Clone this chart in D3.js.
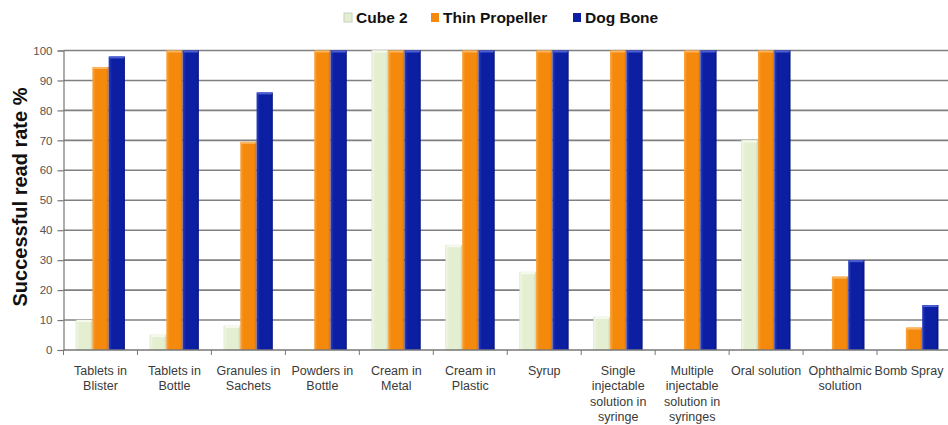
<!DOCTYPE html>
<html>
<head>
<meta charset="utf-8">
<script src="https://cdn.jsdelivr.net/npm/d3@7/dist/d3.min.js"></script>
<style>
  html, body { margin: 0; padding: 0; background: #fff; }
  svg { display: block; font-family: "Liberation Sans", Arial, sans-serif; }
</style>
</head>
<body>
<svg id="chart" width="948" height="425"></svg>
<script>
// Package types tested
const categories = [
  "Tablets in Blister", "Tablets in Bottle", "Granules in Sachets", "Powders in Bottle",
  "Cream in Metal", "Cream in Plastic", "Syrup", "Single injectable solution in syringe",
  "Multiple injectable solution in syringes", "Oral solution", "Ophthalmic solution", "Bomb Spray"
];
// Wrapped label lines for each category
const categoryLines = [
  ["Tablets in", "Blister"], ["Tablets in", "Bottle"], ["Granules in", "Sachets"], ["Powders in", "Bottle"],
  ["Cream in", "Metal"], ["Cream in", "Plastic"], ["Syrup"], ["Single", "injectable", "solution in", "syringe"],
  ["Multiple", "injectable", "solution in", "syringes"], ["Oral solution"], ["Ophthalmic", "solution"], ["Bomb Spray"]
];
const seriesNames = ["Cube 2", "Thin Propeller", "Dog Bone"];
// Successful read rate (%) per antenna
const cube2 = [10, 5, 8, 0, 100, 35, 26, 11, 0, 70, 0, 0];
const thinPropeller = [94.5, 100, 69.5, 100, 100, 100, 100, 100, 100, 100, 24.5, 7.5];
const dogBone = [98, 100, 86, 100, 100, 100, 100, 100, 100, 100, 30, 15];
const yTicks = [0, 10, 20, 30, 40, 50, 60, 70, 80, 90, 100];

const seriesValues = [cube2, thinPropeller, dogBone];
const fills = [
  { main: "#e4efd2", light: "#f2f8e6", dark: "#c9d6b4", cap: "#f6faee" },
  { main: "#f5890c", light: "#f9a640", dark: "#d87200", cap: "#fbb560" },
  { main: "#0c1fa3", light: "#2a3fc0", dark: "#07137a", cap: "#4a5ed6" }
];

const svg = d3.select("#chart");
const plotLeft = 63.5, plotRight = 951, plotTop = 50.5, plotBottom = 350;

const x = d3.scaleBand().domain(categories).range([plotLeft, plotRight]).paddingInner(0).paddingOuter(0);
const inner = d3.scaleBand().domain(seriesNames).range([0, x.bandwidth()]).paddingInner(0).paddingOuter(0.77);
const y = d3.scaleLinear().domain([0, 100]).range([plotBottom, plotTop]);

// Gradients give the bars a slightly rounded look
const defs = svg.append("defs");
fills.forEach((f, i) => {
  const g = defs.append("linearGradient").attr("id", "g" + i).attr("x1", "0").attr("x2", "1").attr("y1", "0").attr("y2", "0");
  g.append("stop").attr("offset", "0").attr("stop-color", f.light);
  g.append("stop").attr("offset", "0.2").attr("stop-color", f.main);
  g.append("stop").attr("offset", "0.85").attr("stop-color", f.main);
  g.append("stop").attr("offset", "1").attr("stop-color", f.dark);
});

// Horizontal gridlines
svg.append("g")
  .selectAll("line")
  .data(yTicks.filter(d => d > 0))
  .join("line")
  .attr("x1", plotLeft).attr("x2", 948)
  .attr("y1", d => y(d)).attr("y2", d => y(d))
  .attr("stroke", "#808080").attr("stroke-width", 1.6);

// Y axis
const yAxis = svg.append("g")
  .attr("transform", `translate(${plotLeft},0)`)
  .call(d3.axisLeft(y).tickValues(yTicks).tickSize(6).tickPadding(5));
yAxis.select(".domain").attr("stroke", "#777").attr("stroke-width", 1.2);
yAxis.selectAll(".tick line").attr("stroke", "#777").attr("stroke-width", 1.2);
yAxis.selectAll(".tick text").attr("fill", "#555").attr("font-size", 11.5).attr("font-family", "Liberation Sans, Arial, sans-serif");

// Bars
const groups = svg.append("g")
  .selectAll("g")
  .data(categories)
  .join("g")
  .attr("transform", d => `translate(${x(d)},0)`);

groups.each(function (cat, ci) {
  const g = d3.select(this);
  seriesNames.forEach((s, si) => {
    const v = seriesValues[si][ci];
    if (v <= 0) return;
    const bx = inner(s), bw = inner.bandwidth();
    g.append("rect")
      .attr("x", bx).attr("y", y(v))
      .attr("width", bw).attr("height", y(0) - y(v))
      .attr("fill", `url(#g${si})`)
      .attr("stroke", si === 0 ? "#d5dfc2" : "none")
      .attr("stroke-width", 0.6);
    g.append("rect")
      .attr("x", bx + 1).attr("y", y(v))
      .attr("width", bw - 2).attr("height", 2)
      .attr("fill", fills[si].cap);
  });
});

// X axis
const xAxis = svg.append("g").attr("transform", `translate(0,${plotBottom})`);
xAxis.append("line").attr("x1", plotLeft).attr("x2", 948).attr("y1", 0).attr("y2", 0)
  .attr("stroke", "#777").attr("stroke-width", 1.4);
xAxis.selectAll(".tk")
  .data(categories.concat(["end"]))
  .join("line")
  .attr("class", "tk")
  .attr("x1", (d, i) => plotLeft + i * x.bandwidth())
  .attr("x2", (d, i) => plotLeft + i * x.bandwidth())
  .attr("y1", 0).attr("y2", 5)
  .attr("stroke", "#777").attr("stroke-width", 1);

const labels = xAxis.selectAll(".lbl")
  .data(categories)
  .join("text")
  .attr("class", "lbl")
  .attr("text-anchor", "middle")
  .attr("fill", "#3a3a3a")
  .attr("font-size", 12.5)
  .attr("transform", d => `translate(${Math.min(x(d) + x.bandwidth() / 2, 909)},0)`);
labels.each(function (d, i) {
  const t = d3.select(this);
  categoryLines[i].forEach((line, li) => {
    t.append("tspan").attr("x", 0).attr("y", 24.5 + li * 15.5).text(line);
  });
});

// Y axis title
svg.append("text")
  .attr("transform", `translate(27,197) rotate(-90)`)
  .attr("text-anchor", "middle")
  .attr("font-size", 20)
  .attr("font-weight", "bold")
  .attr("fill", "#111")
  .text("Successful read rate %");

// Legend
const legendItems = [
  { name: seriesNames[0], x: 344 },
  { name: seriesNames[1], x: 431 },
  { name: seriesNames[2], x: 573 }
];
const legend = svg.append("g");
legendItems.forEach((it, i) => {
  legend.append("rect")
    .attr("x", it.x).attr("y", 13).attr("width", 8).attr("height", 9)
    .attr("fill", fills[i].main)
    .attr("stroke", i === 0 ? "#c8d0bc" : "none");
  legend.append("text")
    .attr("x", it.x + 12).attr("y", 23)
    .attr("font-size", 15.5).attr("font-weight", "bold").attr("fill", "#111")
    .text(it.name);
});
</script>
</body>
</html>
